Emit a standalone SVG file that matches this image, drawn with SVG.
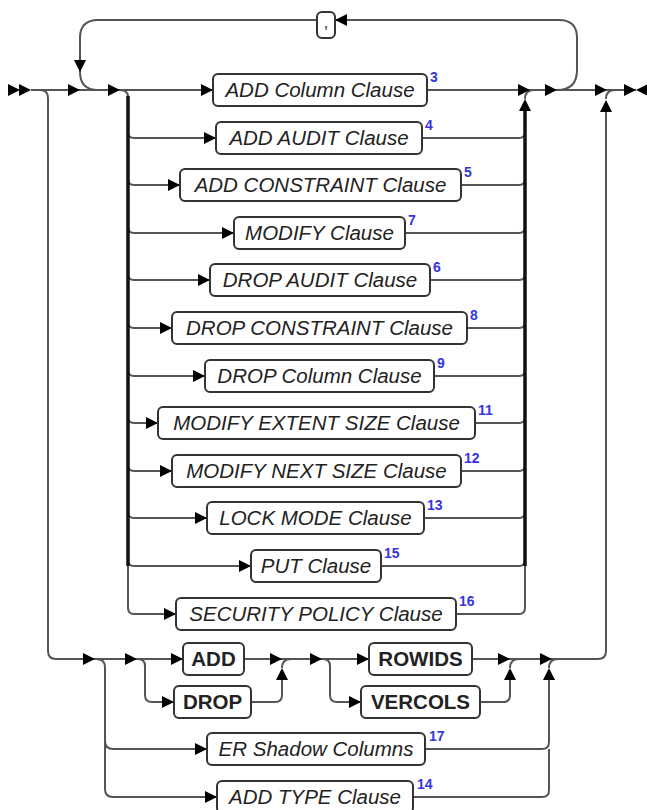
<svg xmlns="http://www.w3.org/2000/svg" xmlns:xlink="http://www.w3.org/1999/xlink" width="647" height="810" viewBox="0 0 647 810">
<style>
.ln{fill:none;stroke:#555;stroke-width:2}
.tk{fill:none;stroke:#111;stroke-width:3.5}
.bx{fill:#fff;stroke:#333;stroke-width:2}
.t{font-family:"Liberation Sans",Arial,sans-serif;font-size:20.5px;font-style:italic;fill:#222;text-anchor:middle}
.k{font-family:"Liberation Sans",Arial,sans-serif;font-size:20.5px;font-weight:bold;fill:#222;text-anchor:middle}
.n{font-family:"Liberation Sans",Arial,sans-serif;font-size:14px;font-weight:bold;fill:#3535e0}
.ah{fill:#000}
</style>
<defs>
<path id="ar" class="ah" d="M0,0 L-12,-6 L-12,6 Z"/>
</defs>
<rect width="647" height="810" fill="#fff"/>
<g id="connectors">
<path class="ln" d="M31,90 H213"/>
<path class="ln" d="M427,90 H636"/>
<path class="ln" d="M557,90 Q577,90 577,70 V38 Q577,20 559,20 H335"/>
<path class="ln" d="M317,20 H98 Q80,20 80,38 V72 Q80,90 98,90"/>
<path class="ln" d="M120,90 Q128,90 128,97"/>
<path class="ln" d="M128,132 Q128,138 134,138 H216"/>
<path class="ln" d="M128,179 Q128,185 134,185 H180"/>
<path class="ln" d="M128,227 Q128,233 134,233 H234"/>
<path class="ln" d="M128,274 Q128,280 134,280 H210"/>
<path class="ln" d="M128,322 Q128,328 134,328 H172"/>
<path class="ln" d="M128,370 Q128,376 134,376 H205"/>
<path class="ln" d="M128,417 Q128,423 134,423 H158"/>
<path class="ln" d="M128,465 Q128,471 134,471 H172"/>
<path class="ln" d="M128,512 Q128,518 134,518 H207"/>
<path class="ln" d="M128,560 Q128,566 134,566 H251"/>
<path class="ln" d="M128,560 V608 Q128,614 134,614 H176"/>
<path class="tk" d="M128,96 V566"/>
<path class="ln" d="M422,138 H519 Q525,138 525,132"/>
<path class="ln" d="M461,185 H519 Q525,185 525,179"/>
<path class="ln" d="M405,233 H519 Q525,233 525,227"/>
<path class="ln" d="M430,280 H519 Q525,280 525,274"/>
<path class="ln" d="M467,328 H519 Q525,328 525,322"/>
<path class="ln" d="M434,376 H519 Q525,376 525,370"/>
<path class="ln" d="M475,423 H519 Q525,423 525,417"/>
<path class="ln" d="M461,471 H519 Q525,471 525,465"/>
<path class="ln" d="M424,518 H519 Q525,518 525,512"/>
<path class="ln" d="M381,566 H519 Q525,566 525,560"/>
<path class="ln" d="M456,614 H519 Q525,614 525,608 V560"/>
<path class="tk" d="M525,566 V104"/>
<path class="ln" d="M525,99 Q525,90 534,90"/>
<path class="ln" d="M40,90 Q48,90 48,98 V651 Q48,659 56,659 H183"/>
<path class="ln" d="M96,659 Q105,659 105,667 V789 Q105,797 113,797 H217"/>
<path class="ln" d="M105,741 Q105,749 113,749 H207"/>
<path class="ln" d="M138,659 Q145,659 145,666 V695 Q145,702 152,702 H174"/>
<path class="ln" d="M244,659 H369"/>
<path class="ln" d="M251,702 H275 Q282,702 282,695 V670"/>
<path class="ln" d="M282,668 Q282,659 291,659"/>
<path class="ln" d="M323,659 Q330,659 330,666 V695 Q330,702 337,702 H361"/>
<path class="ln" d="M472,659 H598 Q606,659 606,651 V102"/>
<path class="ln" d="M480,702 H503 Q510,702 510,695 V670"/>
<path class="ln" d="M510,668 Q510,659 519,659"/>
<path class="ln" d="M425,749 H542 Q549,749 549,742 V670"/>
<path class="ln" d="M413,797 H542 Q549,797 549,790 V749"/>
<path class="ln" d="M549,668 Q549,659 558,659"/>
<path class="ln" d="M606,99 Q606,90 615,90"/>
<use xlink:href="#ar" x="20" y="90"/>
<use xlink:href="#ar" x="31" y="90"/>
<use xlink:href="#ar" x="80" y="90"/>
<use xlink:href="#ar" x="120" y="90"/>
<use xlink:href="#ar" transform="translate(80,72) rotate(90)"/>
<use xlink:href="#ar" transform="translate(335,20) rotate(180)"/>
<use xlink:href="#ar" x="213" y="90"/>
<use xlink:href="#ar" x="216" y="138"/>
<use xlink:href="#ar" x="180" y="185"/>
<use xlink:href="#ar" x="234" y="233"/>
<use xlink:href="#ar" x="210" y="280"/>
<use xlink:href="#ar" x="172" y="328"/>
<use xlink:href="#ar" x="205" y="376"/>
<use xlink:href="#ar" x="158" y="423"/>
<use xlink:href="#ar" x="172" y="471"/>
<use xlink:href="#ar" x="207" y="518"/>
<use xlink:href="#ar" x="251" y="566"/>
<use xlink:href="#ar" x="176" y="614"/>
<use xlink:href="#ar" x="530" y="90"/>
<use xlink:href="#ar" transform="translate(525,99) rotate(-90)"/>
<use xlink:href="#ar" x="557" y="90"/>
<use xlink:href="#ar" x="607" y="90"/>
<use xlink:href="#ar" transform="translate(606,100) rotate(-90)"/>
<use xlink:href="#ar" x="636" y="90"/>
<use xlink:href="#ar" transform="translate(636,90) rotate(180)"/>
<use xlink:href="#ar" x="95" y="659"/>
<use xlink:href="#ar" x="137" y="659"/>
<use xlink:href="#ar" x="183" y="659"/>
<use xlink:href="#ar" x="174" y="702"/>
<use xlink:href="#ar" x="282" y="659"/>
<use xlink:href="#ar" transform="translate(282,668) rotate(-90)"/>
<use xlink:href="#ar" x="322" y="659"/>
<use xlink:href="#ar" x="369" y="659"/>
<use xlink:href="#ar" x="361" y="702"/>
<use xlink:href="#ar" x="510" y="659"/>
<use xlink:href="#ar" transform="translate(510,668) rotate(-90)"/>
<use xlink:href="#ar" x="552" y="659"/>
<use xlink:href="#ar" transform="translate(549,668) rotate(-90)"/>
<use xlink:href="#ar" x="207" y="749"/>
<use xlink:href="#ar" x="217" y="797"/>
</g>
<g id="comma"><rect class="bx" x="317" y="12" width="18" height="26" rx="5"/><text class="k" x="326" y="28" style="font-weight:normal;font-size:16px">,</text></g>
<g id="add-column"><rect class="bx" x="213" y="74" width="214" height="32" rx="5"/><text class="t" x="320" y="97">ADD Column Clause</text><text class="n" x="430" y="82">3</text></g>
<g id="add-audit"><rect class="bx" x="216" y="122" width="206" height="32" rx="5"/><text class="t" x="319" y="145">ADD AUDIT Clause</text><text class="n" x="425" y="130">4</text></g>
<g id="add-constraint"><rect class="bx" x="180" y="169" width="281" height="32" rx="5"/><text class="t" x="320.5" y="192">ADD CONSTRAINT Clause</text><text class="n" x="464" y="177">5</text></g>
<g id="modify"><rect class="bx" x="234" y="217" width="171" height="32" rx="5"/><text class="t" x="319.5" y="240">MODIFY Clause</text><text class="n" x="408" y="225">7</text></g>
<g id="drop-audit"><rect class="bx" x="210" y="264" width="220" height="32" rx="5"/><text class="t" x="320" y="287">DROP AUDIT Clause</text><text class="n" x="433" y="272">6</text></g>
<g id="drop-constraint"><rect class="bx" x="172" y="312" width="295" height="32" rx="5"/><text class="t" x="319.5" y="335">DROP CONSTRAINT Clause</text><text class="n" x="470" y="320">8</text></g>
<g id="drop-column"><rect class="bx" x="205" y="360" width="229" height="32" rx="5"/><text class="t" x="319.5" y="383">DROP Column Clause</text><text class="n" x="437" y="368">9</text></g>
<g id="modify-extent"><rect class="bx" x="158" y="407" width="317" height="32" rx="5"/><text class="t" x="316.5" y="430">MODIFY EXTENT SIZE Clause</text><text class="n" x="478" y="415">11</text></g>
<g id="modify-next"><rect class="bx" x="172" y="455" width="289" height="32" rx="5"/><text class="t" x="316.5" y="478">MODIFY NEXT SIZE Clause</text><text class="n" x="464" y="463">12</text></g>
<g id="lock-mode"><rect class="bx" x="207" y="502" width="217" height="32" rx="5"/><text class="t" x="315.5" y="525">LOCK MODE Clause</text><text class="n" x="427" y="510">13</text></g>
<g id="put"><rect class="bx" x="251" y="550" width="130" height="32" rx="5"/><text class="t" x="316" y="573">PUT Clause</text><text class="n" x="384" y="558">15</text></g>
<g id="security-policy"><rect class="bx" x="176" y="598" width="280" height="32" rx="5"/><text class="t" x="316" y="621">SECURITY POLICY Clause</text><text class="n" x="459" y="606">16</text></g>
<g id="add"><rect class="bx" x="183" y="643" width="61" height="32" rx="5"/><text class="k" x="213.5" y="666">ADD</text></g>
<g id="drop"><rect class="bx" x="174" y="686" width="77" height="32" rx="5"/><text class="k" x="212.5" y="709">DROP</text></g>
<g id="rowids"><rect class="bx" x="369" y="643" width="103" height="32" rx="5"/><text class="k" x="420.5" y="666">ROWIDS</text></g>
<g id="vercols"><rect class="bx" x="361" y="686" width="119" height="32" rx="5"/><text class="k" x="420.5" y="709">VERCOLS</text></g>
<g id="er-shadow"><rect class="bx" x="207" y="733" width="218" height="32" rx="5"/><text class="t" x="316" y="756">ER Shadow Columns</text><text class="n" x="429" y="741">17</text></g>
<g id="add-type"><rect class="bx" x="217" y="781" width="196" height="32" rx="5"/><text class="t" x="315" y="804">ADD TYPE Clause</text><text class="n" x="417" y="789">14</text></g>
</svg>
